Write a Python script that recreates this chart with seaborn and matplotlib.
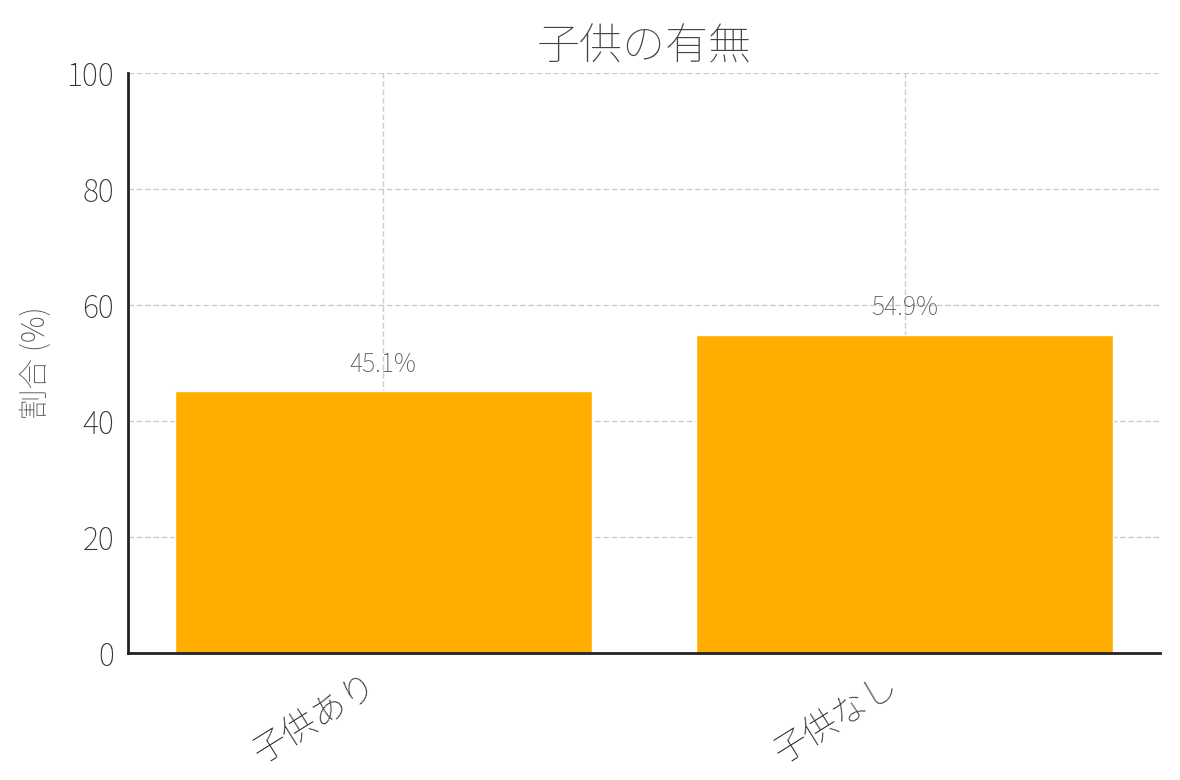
import matplotlib
matplotlib.use("Agg")
import matplotlib.pyplot as plt
import seaborn as sns
import pandas as pd

categories = ["子供あり", "子供なし"]
values = [45.1, 54.9]
title = "子供の有無"
ylabel = "割合 (%)"
yticks = [0, 20, 40, 60, 80, 100]

sns.set_style("white")
plt.rcParams['font.family'] = ['Noto Sans CJK JP', 'DejaVu Sans']
plt.rcParams['font.weight'] = 100

df = pd.DataFrame({"cat": categories, "val": values})

fig = plt.figure(figsize=(11.8, 7.8), dpi=100)
ax = fig.add_axes([0.1085, 0.163, 0.8745, 0.743])
sns.barplot(data=df, x="cat", y="val", color="#FFAE00", saturation=1, width=0.8, ax=ax, zorder=2)
ax.set_xlim(-0.49, 1.49)
ax.set_ylim(0, 100)
ax.set_yticks(yticks)
ax.grid(True, linestyle=(0, (4, 2)), color="#cccccc", linewidth=1, zorder=0)
ax.set_axisbelow(True)
for s in ["top", "right"]:
    ax.spines[s].set_visible(False)
for s in ["left", "bottom"]:
    ax.spines[s].set_color("#222222")
    ax.spines[s].set_linewidth(2)
ax.tick_params(axis="both", direction="in", length=7, width=1.5, color="#222222",
               labelcolor="#333333")
ax.tick_params(axis="y", labelsize=22, pad=10)
ax.tick_params(axis="x", labelsize=25, pad=10)
plt.setp(ax.get_xticklabels(), rotation=32, ha="right", fontweight=100)
plt.setp(ax.get_yticklabels(), fontweight=100)
ax.set_xlabel("")
ax.set_ylabel(ylabel, fontsize=22, color="#555555", fontweight=100, labelpad=10)
ax.set_title(title, fontsize=31, color="#444444", fontweight=100, pad=10)
for i, v in enumerate(values):
    ax.text(i, v + 2.4, f"{v}%", ha="center", va="bottom", fontsize=18,
            color="#5a5a5a", fontweight=100)
fig.savefig("out.png", dpi=100)
